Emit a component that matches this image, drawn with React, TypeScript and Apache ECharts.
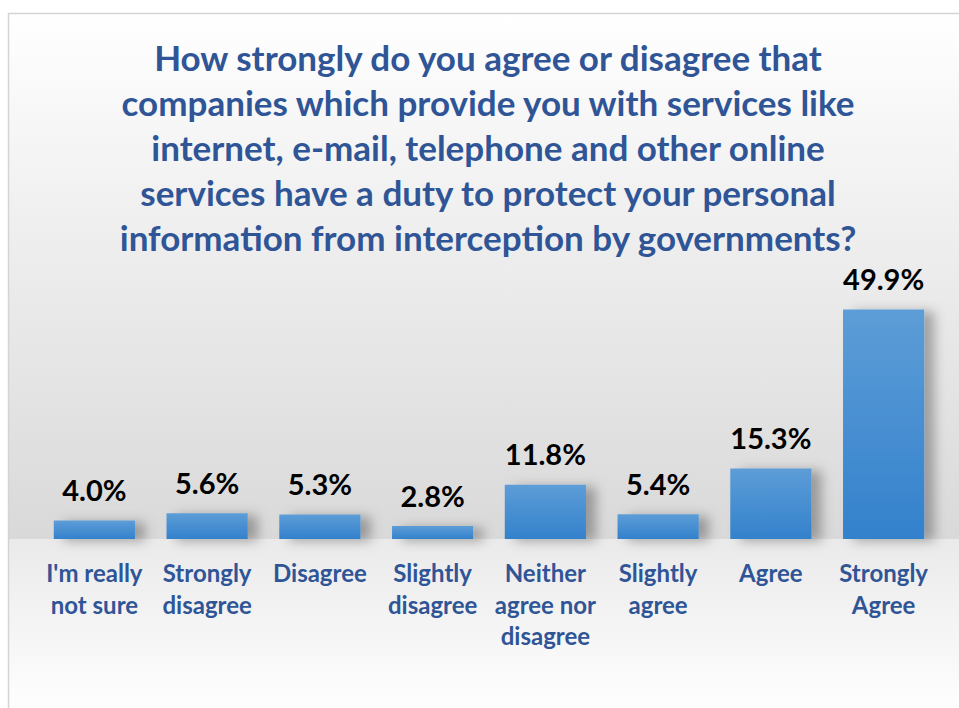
import React, { useEffect, useRef } from "react";
import * as echarts from "echarts";

const titleLines = [
  "How strongly do you agree or disagree that",
  "companies which provide you with services like",
  "internet, e-mail, telephone and other online",
  "services have a duty to protect your personal",
  "information from interception by governments?",
];

const categories = [
  "I'm really\nnot sure",
  "Strongly\ndisagree",
  "Disagree",
  "Slightly\ndisagree",
  "Neither\nagree nor\ndisagree",
  "Slightly\nagree",
  "Agree",
  "Strongly\nAgree",
];

const values = [4.0, 5.6, 5.3, 2.8, 11.8, 5.4, 15.3, 49.9];

export default function App() {
  const ref = useRef<HTMLDivElement>(null);
  useEffect(() => {
    document.body.style.margin = "0";
    const chart = echarts.init(ref.current!, null, { renderer: "svg" });
    const font = "Lato";
    chart.setOption({
      animation: false,
      backgroundColor: "#ffffff",
      graphic: [
        {
          type: "rect",
          z: -10,
          silent: true,
          shape: { x: 8, y: 13, width: 960, height: 526 },
          style: {
            fill: new echarts.graphic.LinearGradient(0, 0, 0, 1, [
              { offset: 0, color: "#ffffff" },
              { offset: 0.35, color: "#f1f1f1" },
              { offset: 1, color: "#d9d9d9" },
            ]),
          },
        },
        {
          type: "rect",
          z: -10,
          silent: true,
          shape: { x: 8, y: 539, width: 960, height: 200 },
          style: {
            fill: new echarts.graphic.LinearGradient(0, 0, 0, 1, [
              { offset: 0, color: "#eaeaea" },
              { offset: 0.8, color: "#fdfdfd" },
              { offset: 1, color: "#ffffff" },
            ]),
          },
        },
        {
          type: "rect",
          z: -9,
          silent: true,
          shape: { x: 8.5, y: 13.5, width: 960, height: 720 },
          style: { fill: "none", stroke: "#d4d4d4", lineWidth: 1.5 },
        },
      ],
      title: {
        text: titleLines.join("\n"),
        left: 483,
        top: 29,
        textAlign: "center",
        textStyle: {
          fontFamily: font,
          fontWeight: "bold",
          fontSize: 35,
          lineHeight: 45,
          color: "#2f5597",
        },
      },
      grid: { left: 38, right: 19, top: 309, bottom: 169, containLabel: false },
      xAxis: {
        type: "category",
        data: categories,
        axisLine: { show: false },
        axisTick: { show: false },
        axisLabel: {
          interval: 0,
          margin: 18,
          fontFamily: font,
          fontWeight: "bold",
          fontSize: 24,
          lineHeight: 31.5,
          color: "#2f5597",
          verticalAlign: "top",
        },
      },
      yAxis: {
        type: "value",
        min: 0,
        max: 50,
        show: false,
        splitLine: { show: false },
      },
      series: [
        {
          type: "bar",
          data: values,
          barWidth: "72%",
          itemStyle: {
            color: new echarts.graphic.LinearGradient(0, 0, 0, 1, [
              { offset: 0, color: "#5d9dd7" },
              { offset: 1, color: "#3381cc" },
            ]),
            shadowColor: "rgba(0,0,0,0.3)",
            shadowBlur: 12,
            shadowOffsetX: 10,
            shadowOffsetY: 2,
          },
          label: {
            show: true,
            position: "top",
            distance: 16,
            formatter: (p: any) => p.value.toFixed(1) + "%",
            fontFamily: font,
            fontWeight: "bold",
            fontSize: 29,
            lineHeight: 30,
            color: "#000000",
          },
        },
      ],
    });
    return () => chart.dispose();
  }, []);
  return (
    <div
      ref={ref}
      style={{ position: "absolute", left: 0, top: 0, width: 959, height: 708 }}
    />
  );
}
